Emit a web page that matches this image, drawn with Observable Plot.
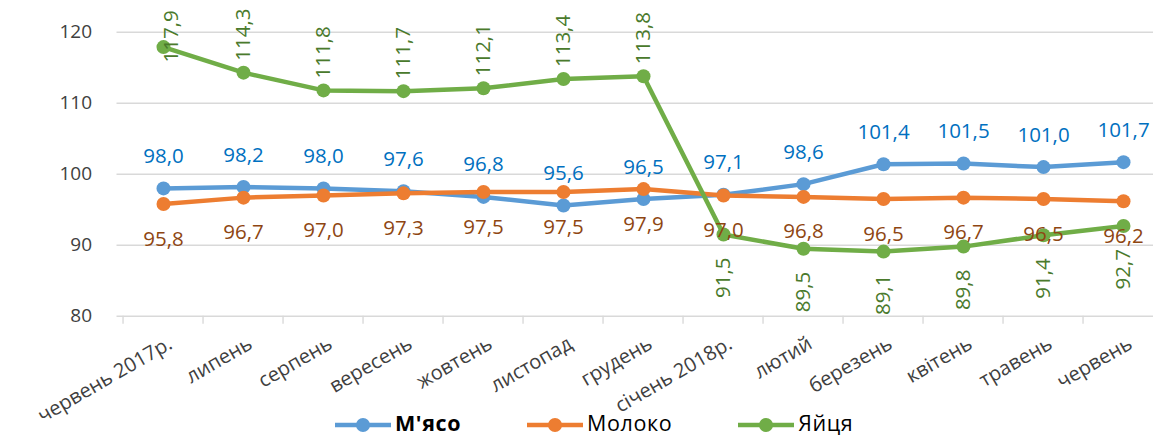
<!DOCTYPE html>
<html>
<head>
<meta charset="utf-8">
<script src="https://cdn.jsdelivr.net/npm/d3@7"></script>
<script src="https://cdn.jsdelivr.net/npm/@observablehq/plot@0.6"></script>
<style>
  html, body { margin: 0; padding: 0; background: #fff; }
  body { width: 1153px; font-family: "Open Sans", sans-serif; position: relative; }
  #legend { position: absolute; left: 335px; top: 407.5px; display: flex; align-items: center; gap: 66px; font-size: 21.5px; letter-spacing: 0.6px; color: #000; }
  .item { display: flex; align-items: center; gap: 4px; }
  .item svg { display: block; padding-top: 6px; }
</style>
</head>
<body>
<div id="chart"></div>
<div id="legend"></div>
<script>
// ---- data ----
const months = ["червень 2017р.", "липень", "серпень", "вересень", "жовтень", "листопад", "грудень",
                "січень 2018р.", "лютий", "березень", "квітень", "травень", "червень"];
const meat = [98.0, 98.2, 98.0, 97.6, 96.8, 95.6, 96.5, 97.1, 98.6, 101.4, 101.5, 101.0, 101.7];
const milk = [95.8, 96.7, 97.0, 97.3, 97.5, 97.5, 97.9, 97.0, 96.8, 96.5, 96.7, 96.5, 96.2];
const eggs = [117.9, 114.3, 111.8, 111.7, 112.1, 113.4, 113.8, 91.5, 89.5, 89.1, 89.8, 91.4, 92.7];
const seriesNames = ["М'ясо", "Молоко", "Яйця"];
const yTicks = [80, 90, 100, 110, 120];

// ---- styling ----
const lineColors = ["#5B9BD5", "#ED7D31", "#70AD47"];
const labelColors = ["#0070C0", "#8E4612", "#4A7A2C"];
const W = 1153, H = 437;
const mTop = 31.7, mBottom = H - 315.7, mLeft = 116.5;
const xRange = [116.5, 1168.5];
const step = (xRange[1] - xRange[0]) / months.length;
const fmt = v => d3.format(".1f")(v).replace(".", ",");
const font = "'Open Sans', sans-serif";

const toRows = (vals, name) => vals.map((v, i) => ({month: months[i], value: v, series: name, i}));
const meatRows = toRows(meat, seriesNames[0]);
const milkRows = toRows(milk, seriesNames[1]);
const eggRows = toRows(eggs, seriesNames[2]);

const seriesMarks = [meatRows, milkRows, eggRows].flatMap((rows, k) => [
  Plot.line(rows, {x: "month", y: "value", stroke: lineColors[k], strokeWidth: 4.5, curve: "linear"}),
  Plot.dot(rows, {x: "month", y: "value", r: 7, fill: lineColors[k], stroke: "none"})
]);

const eggsAbove = eggRows.filter(d => d.value > 100 && d.value < 116);
const eggsClamped = eggRows.filter(d => d.value >= 116);
const eggsBelow = eggRows.filter(d => d.value < 100);

const chart = Plot.plot({
  width: W,
  height: H,
  marginTop: mTop,
  marginBottom: mBottom,
  marginLeft: mLeft,
  marginRight: 0,
  style: {fontFamily: font, fontSize: "19px", background: "#fff"},
  x: {type: "point", domain: months, range: xRange, padding: 0.5, axis: null},
  y: {domain: [80, 120], axis: null},
  marks: [
    Plot.ruleY(yTicks, {stroke: "#d9d9d9", strokeWidth: 1.4}),
    Plot.ruleX(months, {x: d => d, y1: 80, y2: 80, insetBottom: -8, dx: -step / 2, stroke: "#d9d9d9", strokeWidth: 1.4}),
    Plot.axisY({ticks: yTicks, tickSize: 0, tickPadding: 25, fill: "#404040", fontSize: 19, label: null}),
    Plot.text(months, {x: d => d, y: 80, rotate: -30, textAnchor: "end", lineAnchor: "top", dx: 3, dy: 19, fill: "#404040", fontSize: 20}),
    ...seriesMarks,
    Plot.text(meatRows, {x: "month", y: "value", text: d => fmt(d.value), dy: -32, fill: labelColors[0], fontSize: 20.5}),
    Plot.text(milkRows, {x: "month", y: "value", text: d => fmt(d.value), dy: 35, fill: labelColors[1], fontSize: 20.5}),
    Plot.text(eggsAbove, {x: "month", y: "value", text: d => fmt(d.value), rotate: -90, textAnchor: "start", dy: -12, fill: labelColors[2], fontSize: 20.5}),
    Plot.text(eggsClamped, {x: "month", frameAnchor: "top", text: d => fmt(d.value), rotate: -90, textAnchor: "end", dy: -22, fill: labelColors[2], fontSize: 20.5}),
    Plot.text(eggsBelow, {x: "month", y: "value", text: d => fmt(d.value), rotate: -90, textAnchor: "end", dy: 23, fill: labelColors[2], fontSize: 20.5})
  ]
});
document.getElementById("chart").append(chart);

// ---- legend ----
const legend = document.getElementById("legend");
seriesNames.forEach((name, k) => {
  const item = document.createElement("div");
  item.className = "item";
  item.innerHTML = `<svg width="56" height="18"><line x1="0" x2="56" y1="9" y2="9" stroke="${lineColors[k]}" stroke-width="4.5"/><circle cx="28" cy="9" r="7" fill="${lineColors[k]}"/></svg><span style="${k === 0 ? 'font-weight:bold;' : ''}">${name}</span>`;
  legend.append(item);
});
</script>
</body>
</html>
